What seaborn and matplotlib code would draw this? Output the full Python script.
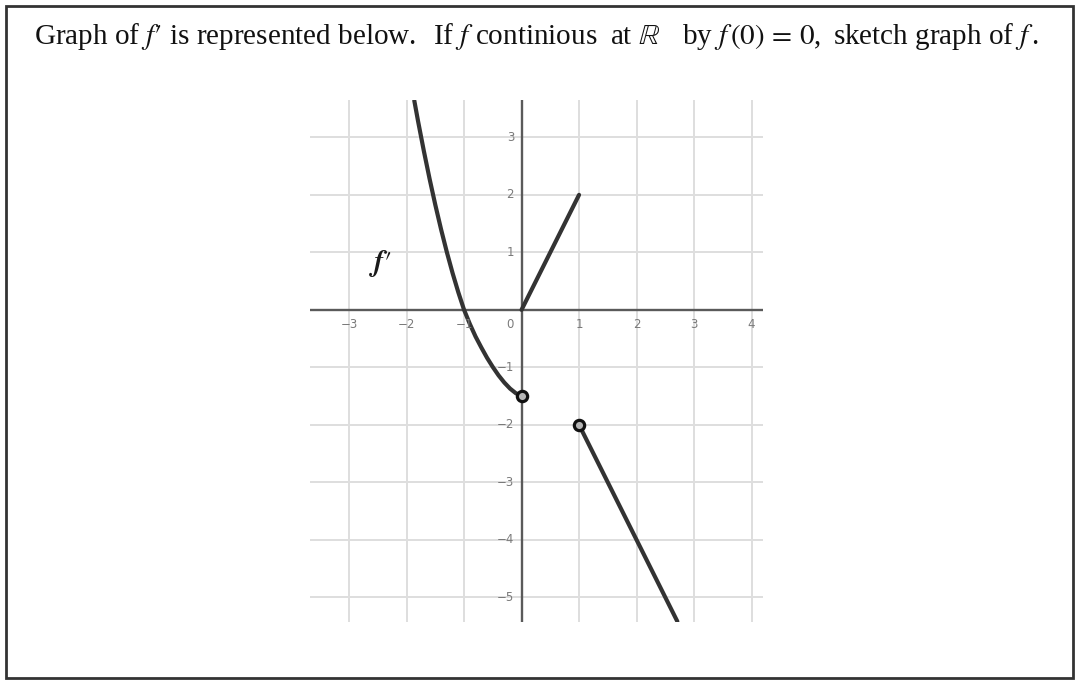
import matplotlib
matplotlib.use("Agg")
import matplotlib.pyplot as plt
import seaborn as sns
from matplotlib.patches import Rectangle

# ---- data ----
curve_x = [-1.866, -1.8, -1.7, -1.6, -1.5, -1.4, -1.3, -1.2, -1.1, -1.0,
           -0.9, -0.8, -0.7, -0.6, -0.5, -0.4, -0.3, -0.2, -0.1, 0.0]
curve_y = [3.64, 3.28, 2.765, 2.28, 1.825, 1.40, 1.005, 0.64, 0.305, 0.0,
           -0.245, -0.465, -0.655, -0.835, -0.995, -1.14, -1.265, -1.37, -1.45, -1.495]
seg1_x = [0, 1]
seg1_y = [0, 2]
seg2_x = [1, 2.71]
seg2_y = [-2, -5.42]
open_x = [0, 1]
open_y = [-1.5, -2]
x_ticks = [-3, -2, -1, 0, 1, 2, 3, 4]
y_ticks = [-5, -4, -3, -2, -1, 1, 2, 3]
x_tick_labels = ["\u22123", "\u22122", "\u22121", "0", "1", "2", "3", "4"]
y_tick_labels = ["\u22125", "\u22124", "\u22123", "\u22122", "\u22121", "1", "2", "3"]
title_parts = [r"Graph of $f\prime$ is represented below.",
               r"If $f$ continious",
               r"at $\mathbb{R}$",
               r"by $f\,(0)\,=\,0$,",
               r"sketch graph of $f\,$."]
title_part_px = [34, 433, 610, 682, 833]
curve_label = r"$\mathbfit{f}\prime$"

sns.set_style("white")
plt.rcParams["mathtext.fontset"] = "stix"

fig = plt.figure(figsize=(10.8, 6.86), dpi=100)
ax = fig.add_axes([310 / 1080, 64 / 686, 453 / 1080, 522 / 686])
ax.set_xlim(-3.68, 4.20)
ax.set_ylim(-5.43, 3.65)

# grid
for xv in x_ticks:
    ax.axvline(xv, color="#dedede", lw=1.4, zorder=0)
for yv in y_ticks:
    ax.axhline(yv, color="#dedede", lw=1.4, zorder=0)
ax.axhline(0, color="#5a5a5a", lw=1.7, zorder=1)
ax.axvline(0, color="#5a5a5a", lw=1.7, zorder=1)

lc = "#333333"
sns.lineplot(x=curve_x, y=curve_y, ax=ax, color=lc, lw=3.0, sort=False, zorder=3)
sns.lineplot(x=seg1_x, y=seg1_y, ax=ax, color=lc, lw=3.0, sort=False, zorder=3)
sns.lineplot(x=seg2_x, y=seg2_y, ax=ax, color=lc, lw=3.0, sort=False, zorder=3)
sns.scatterplot(x=open_x, y=open_y, ax=ax, s=55, facecolor="#b5b5b5",
                edgecolor="#111111", linewidth=2.3, zorder=4)

tick_color = "#7a7a7a"
for xv, lab in zip(x_ticks, x_tick_labels):
    dx = -0.2 if xv == 0 else 0
    ax.text(xv + dx, -0.26, lab, ha="center", va="center", fontsize=8.5, color=tick_color)
for yv, lab in zip(y_ticks, y_tick_labels):
    ax.text(-0.13, yv, lab, ha="right", va="center", fontsize=8.5, color=tick_color)

ax.text(-2.45, 0.8, curve_label, ha="center", va="center", fontsize=21, color="#1a1a1a")

ax.set_xticks([])
ax.set_yticks([])
for s in ax.spines.values():
    s.set_visible(False)
ax.patch.set_alpha(0)

for part, px in zip(title_parts, title_part_px):
    fig.text(px / 1080, 1 - 37 / 686, part, ha="left", va="center", fontsize=21,
             family="Liberation Serif", color="#111111")

fig.patches.append(Rectangle((6 / 1080, 8 / 686), 1067 / 1080, 672 / 686,
                             transform=fig.transFigure, fill=False,
                             edgecolor="#333333", lw=2, zorder=10))

fig.savefig("out.png", dpi=100)
